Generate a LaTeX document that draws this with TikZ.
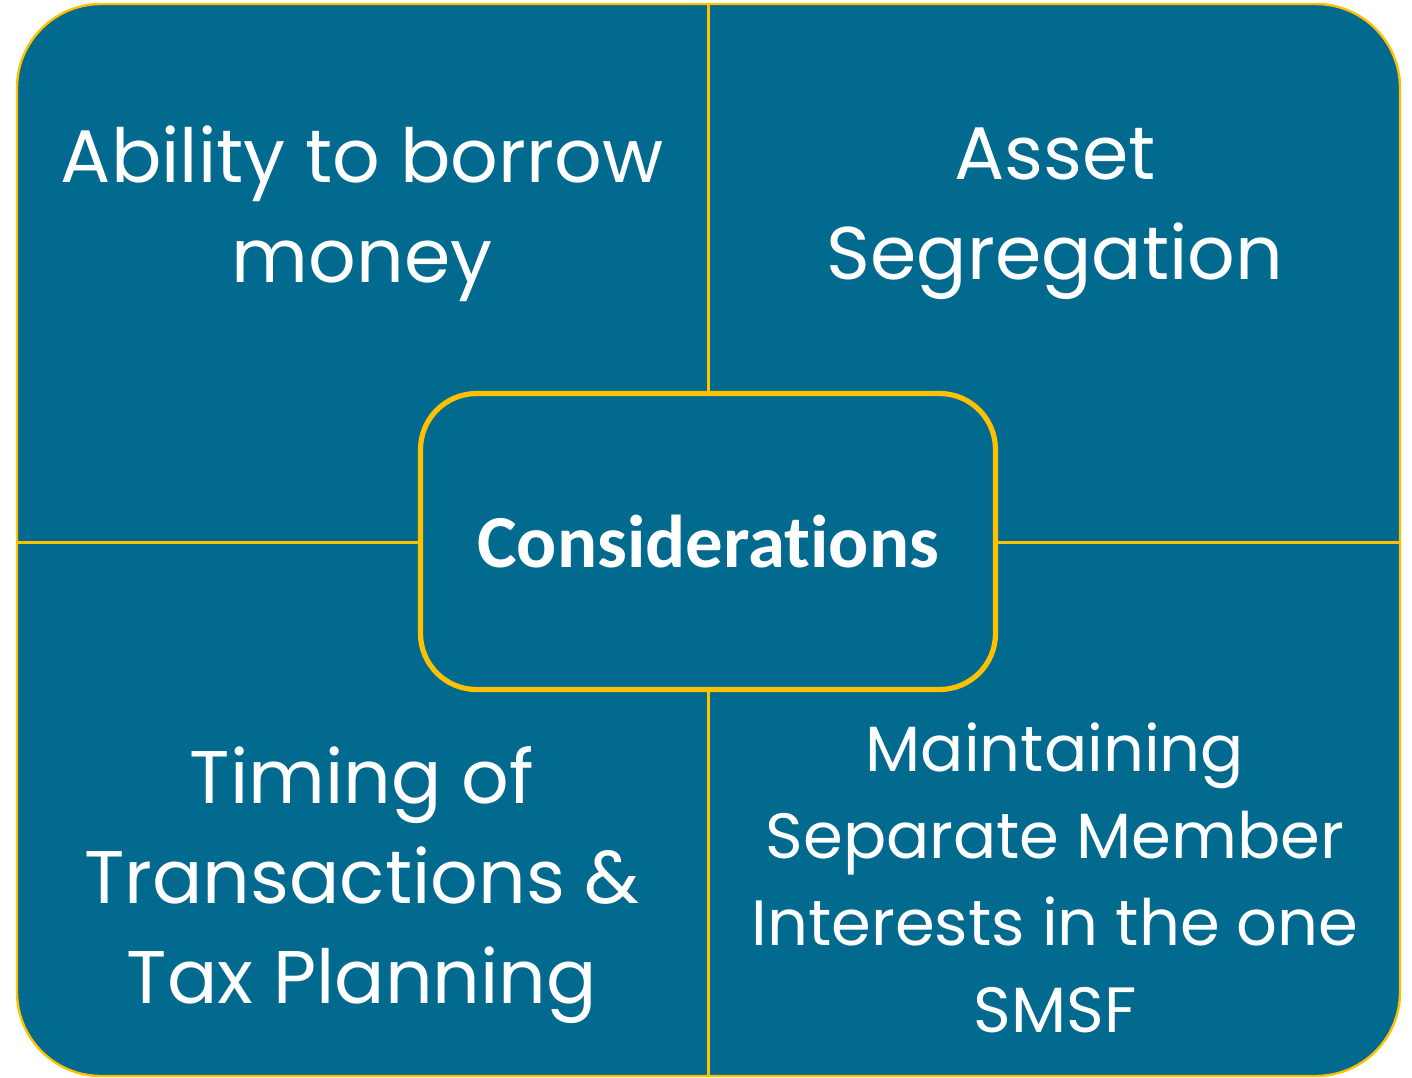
\documentclass[tikz,border=0pt]{standalone}
\usepackage{fontspec}
\setmainfont{Poppins}
\newfontfamily\calibri[Ligatures=NoCommon]{Carlito}
\usepackage{xcolor}
\usepackage{tikz}
\definecolor{smsfblue}{HTML}{02698F}
\definecolor{smsfgold}{HTML}{FFC000}

\begin{document}
\begin{tikzpicture}[x=0.5pt,y=-0.5pt,
            frame/.style = {rectangle, rounded corners=42pt,
                        draw=smsfgold, line width=1.2pt, fill=smsfblue,
                        minimum width=691.5pt, minimum height=536pt,
                        inner sep=0pt},
            centre/.style = {rectangle, rounded corners=28pt,
                        draw=smsfgold, line width=2.6pt, fill=smsfblue,
                        minimum width=287.5pt, minimum height=148pt,
                        text=white, font=\calibri\bfseries\fontsize{37.4}{44}\selectfont},
            quad/.style = {align=center, text=white, inner sep=0pt,
                        font=\fontsize{37.3}{50}\selectfont},
            quadsmall/.style = {align=center, text=white, inner sep=0pt,
                        font=\fontsize{32}{43.5}\selectfont}]
            \useasboundingbox (0,0) rectangle (1412,1077);
            % Outer frame
            \node[frame] (F) at (708.5,540) {};
            % Divider lines
            \draw[smsfgold, line width=1.3pt] (F.north -| 708.5,0) -- (F.south -| 708.5,0);
            \draw[smsfgold, line width=1.3pt] (F.west |- 0,542.5) -- (F.east |- 0,542.5);
            % Centre box
            \node[centre] (C) at (708,541.5) {Considerations};
            % Quadrant labels
            \node[quad] (TL) at (362,214) {Ability to borrow\\money};
            \node[quad] (TR) at (1055,214) {Asset\\Segregation};
            \node[quad] (BL) at (362,885) {Timing of\\Transactions \&\\Tax Planning};
            \node[quadsmall] (BR) at (1055,878) {Maintaining\\Separate Member\\Interests in the one\\SMSF};
        \end{tikzpicture}
\end{document}
